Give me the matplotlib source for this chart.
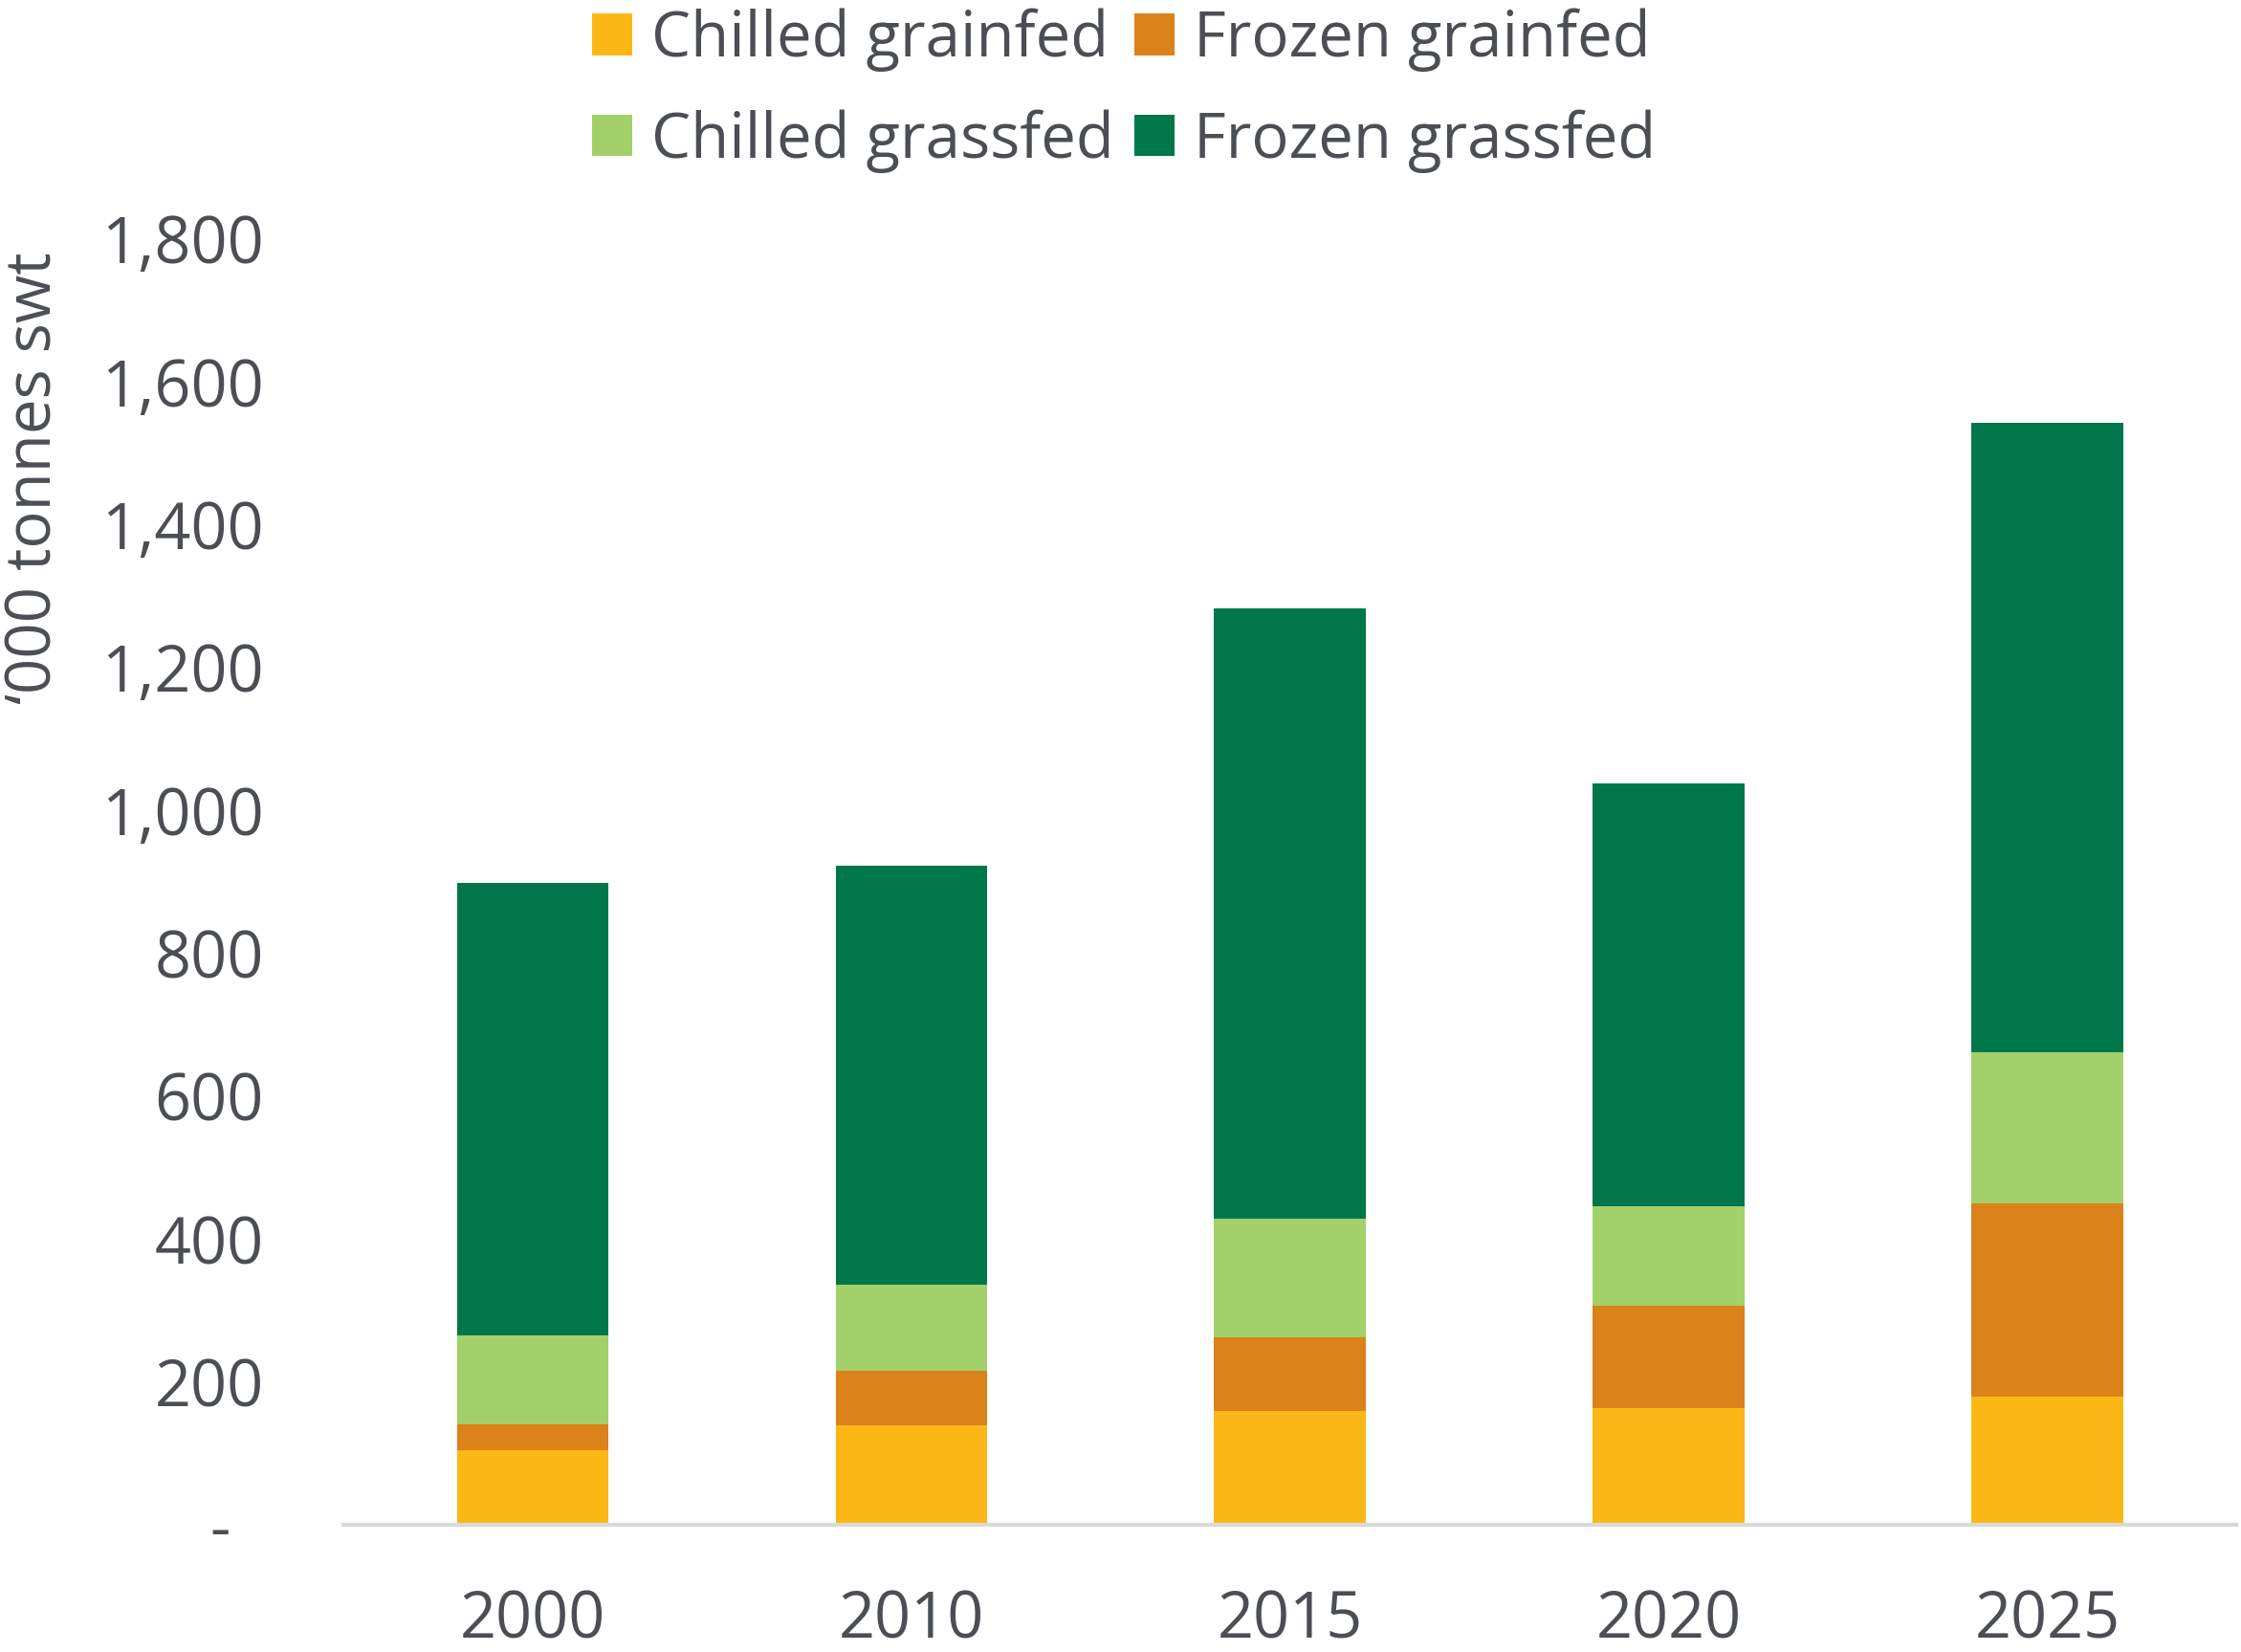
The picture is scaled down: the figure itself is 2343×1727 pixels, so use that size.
import matplotlib.pyplot as plt
import numpy as np
from matplotlib.ticker import FuncFormatter

plt.rcParams['font.family'] = ['Open Sans', 'DejaVu Sans']

years = ['2000', '2010', '2015', '2020', '2025']
chilled_grainfed = [104, 139, 159, 164, 180]
frozen_grainfed = [36, 77, 104, 142, 270]
chilled_grassfed = [125, 120, 165, 140, 212]
frozen_grassfed = [633, 586, 854, 592, 880]

txt = '#4b4f54'
colors = {'Chilled grainfed': '#fbb716',
          'Frozen grainfed': '#db821a',
          'Chilled grassfed': '#a2d06a',
          'Frozen grassfed': '#00774a'}

fig = plt.figure(figsize=(23.43, 17.27), dpi=100)
ax = fig.add_axes([0.1532, 0.077, 0.8448, 0.7785])

x = np.arange(len(years))
w = 0.4
bottom = np.zeros(len(years))
bars = {}
for name, vals in [('Chilled grainfed', chilled_grainfed),
                   ('Frozen grainfed', frozen_grainfed),
                   ('Chilled grassfed', chilled_grassfed),
                   ('Frozen grassfed', frozen_grassfed)]:
    bars[name] = ax.bar(x, vals, w, bottom=bottom, color=colors[name], label=name, zorder=2)
    bottom += np.array(vals)

ax.set_xlim(-0.5, 4.5)
ax.set_ylim(0, 1800)
ax.set_yticks(range(0, 1801, 200))
ax.yaxis.set_major_formatter(FuncFormatter(lambda v, p: '-  ' if v == 0 else f'{int(v):,}'))
ax.set_xticks(x)
ax.set_xticklabels(years)
ax.tick_params(axis='y', length=0, pad=60, labelsize=48, labelcolor=txt)
ax.tick_params(axis='x', length=0, pad=48, labelsize=48, labelcolor=txt)

for s in ['top', 'right', 'left']:
    ax.spines[s].set_visible(False)
ax.spines['bottom'].set_color('#d9d9d9')
ax.spines['bottom'].set_linewidth(3)

fig.text(37 / 2343, 1 - 500 / 1727, '\u2018000 tonnes swt', rotation=90,
         ha='center', va='center', fontsize=47, color=txt)

order = ['Chilled grainfed', 'Chilled grassfed', 'Frozen grainfed', 'Frozen grassfed']
leg = fig.legend([bars[n] for n in order], order, loc='upper center',
                 bbox_to_anchor=(0.5015, 1.014), ncol=2, frameon=False,
                 fontsize=47, handlelength=0.65, handleheight=0.65,
                 handletextpad=0.3, columnspacing=0.33, labelspacing=0.6,
                 borderpad=0)
for t in leg.get_texts():
    t.set_color(txt)

fig.savefig('out.png', dpi=100)
